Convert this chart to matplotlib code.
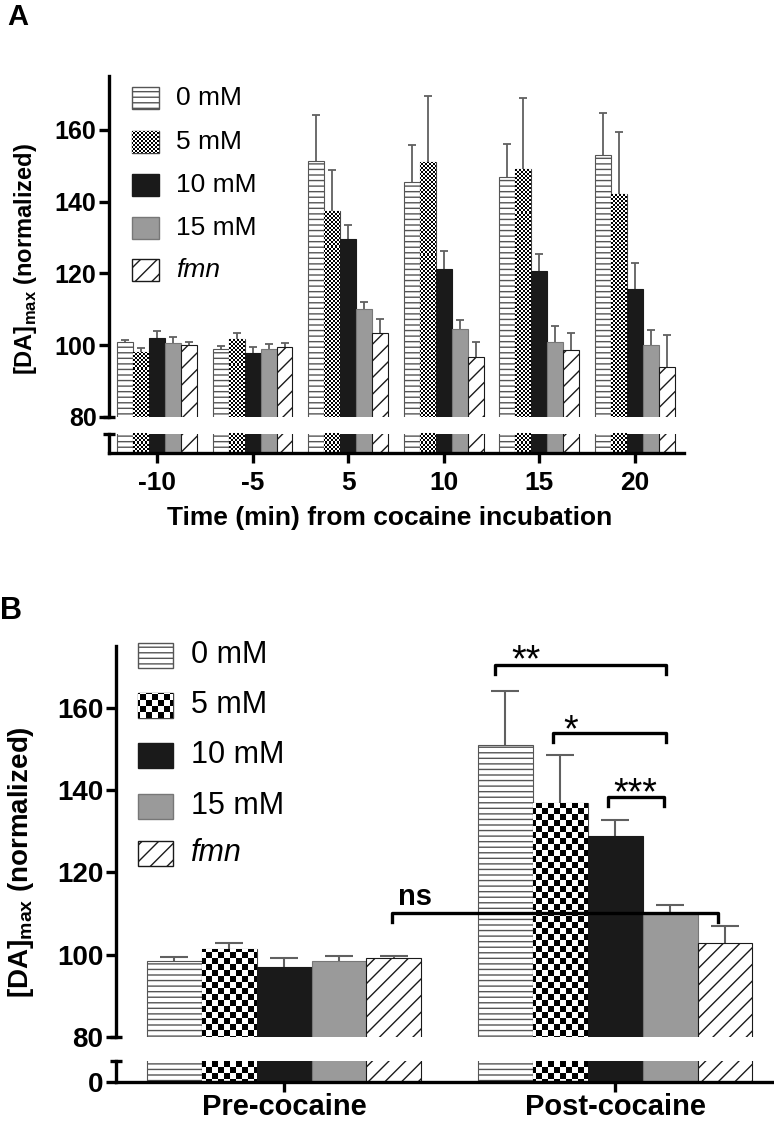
import numpy as np
import matplotlib
matplotlib.use('Agg')
import matplotlib.pyplot as plt
from matplotlib.patches import Rectangle

plt.rcParams['font.family'] = 'Liberation Sans'
plt.rcParams['font.weight'] = 'bold'
plt.rcParams['mathtext.fontset'] = 'custom'
plt.rcParams['mathtext.rm'] = 'Liberation Sans'
plt.rcParams['hatch.linewidth'] = 1.0

# ---- data ----
series = ['0 mM', '5 mM', '10 mM', '15 mM', 'fmn']

time_labels = ['-10', '-5', '5', '10', '15', '20']
a_0mM = [100.8, 99.0, 151.2, 145.6, 146.8, 153.0]
a_0mM_err = [0.6, 0.9, 12.9, 10.3, 9.3, 11.6]
a_5mM = [98.2, 101.8, 137.5, 151.1, 149.2, 142.1]
a_5mM_err = [0.9, 1.5, 11.2, 18.3, 19.6, 17.3]
a_10mM = [102.0, 97.7, 129.5, 121.2, 120.6, 115.7]
a_10mM_err = [2.0, 1.9, 4.0, 5.0, 4.9, 7.1]
a_15mM = [100.7, 98.9, 110.2, 104.6, 101.0, 100.1]
a_15mM_err = [1.5, 1.3, 1.9, 2.4, 4.4, 4.2]
a_fmn = [100.1, 99.6, 103.3, 96.6, 98.7, 93.9]
a_fmn_err = [0.9, 0.9, 4.1, 4.4, 4.7, 8.9]

phase_labels = ['Pre-cocaine', 'Post-cocaine']
b_0mM = [98.5, 151.0]
b_0mM_err = [0.9, 13.1]
b_5mM = [101.5, 136.8]
b_5mM_err = [1.4, 11.7]
b_10mM = [97.0, 128.8]
b_10mM_err = [2.1, 3.9]
b_15mM = [98.5, 109.8]
b_15mM_err = [1.3, 2.2]
b_fmn = [99.2, 102.9]
b_fmn_err = [0.6, 4.1]

# significance brackets in panel B (x in category units, y in data units)
sig_x0 = [0.637, 0.813, 0.979, 0.326]
sig_x1 = [1.154, 1.154, 1.148, 1.311]
sig_y = [170.4, 153.9, 138.3, 110.1]
sig_text = ['**', '*', '***', 'ns']
sig_tx = [0.731, 0.867, 1.060, 0.396]
sig_ty = [168.9, 151.9, 136.6, 112.0]

W, H = 774, 1124
fig = plt.figure(figsize=(W / 100, H / 100), dpi=100)


def box(x0, y_top, x1, y_bot):
    return [x0 / W, 1 - y_bot / H, (x1 - x0) / W, (y_bot - y_top) / H]


def checker(ax, patch, cell, z):
    # fill a patch with a black/white checkerboard texture
    bb = ax.get_position()
    w = int(round(bb.width * W))
    h = int(round(bb.height * H))
    yy, xx = np.mgrid[0:h, 0:w]
    img = ((xx // cell + yy // cell) % 2).astype(float)
    x0, x1 = ax.get_xlim()
    y0, y1 = ax.get_ylim()
    im = ax.imshow(img, cmap='gray', vmin=0, vmax=1, extent=(x0, x1, y0, y1),
                   aspect='auto', interpolation='nearest', zorder=z)
    im.set_clip_path(patch)
    ax.set_xlim(x0, x1)
    ax.set_ylim(y0, y1)


styles = [
    dict(fc='white', ec='#555555', hatch='---'),
    dict(fc='white', ec='#444444', hatch=None),
    dict(fc='#1a1a1a', ec='#1a1a1a', hatch=None),
    dict(fc='#9a9a9a', ec='#777777', hatch=None),
    dict(fc='white', ec='#1a1a1a', hatch='//'),
]


def draw_panel(ax_top, ax_bot, xpos, values, errors, width, cell, capsize, ewidth):
    for ax in (ax_top, ax_bot):
        for i, (vals, st) in enumerate(zip(values, styles)):
            x = xpos + (i - 2) * width
            bars = ax.bar(x, vals, width=width, color=st['fc'], edgecolor=st['ec'],
                          hatch=st['hatch'], linewidth=0.8, zorder=2)
            if i == 1:
                for b in bars:
                    checker(ax, b, cell, 2.1)
            if ax is ax_top:
                eb = ax.errorbar(x, vals, yerr=[np.zeros(len(vals)), errors[i]], fmt='none',
                                 ecolor='#606060', elinewidth=ewidth, capsize=capsize,
                                 capthick=ewidth, zorder=1.5)
                eb.lines[1][0].set_visible(False)  # no cap at the bar top


def style_axes(ax_top, ax_bot, xlim, xticks, xlabels, ysize, xsize, zero_label, xpad):
    for ax in (ax_top, ax_bot):
        ax.set_xlim(*xlim)
        ax.spines[['top', 'right']].set_visible(False)
        ax.spines['left'].set_linewidth(2.4)
        ax.spines['bottom'].set_linewidth(2.4)
    ax_top.set_ylim(80, 175)
    ax_top.spines['bottom'].set_visible(False)
    ax_top.set_xticks([])
    ax_top.set_yticks([80, 100, 120, 140, 160])
    ax_top.tick_params(axis='y', length=7, width=2.4, labelsize=ysize, pad=2)
    ax_bot.set_ylim(0, 1)
    if zero_label:
        ax_bot.set_yticks([0])
        ax_bot.set_yticklabels(['0'])
        ax_bot.tick_params(axis='y', length=7, width=2.4, labelsize=ysize, pad=2)
    else:
        ax_bot.set_yticks([])
    ax_bot.set_xticks(xticks)
    ax_bot.set_xticklabels(xlabels)
    ax_bot.tick_params(axis='x', length=7, width=2.4, labelsize=xsize, pad=xpad)
    # break caps
    ax_top.plot([0], [0], marker='_', ms=8, mew=2.4, color='k',
                transform=ax_top.transAxes, clip_on=False, zorder=5)
    ax_bot.plot([0], [1], marker='_', ms=8, mew=2.4, color='k',
                transform=ax_bot.transAxes, clip_on=False, zorder=5)


def legend(ax, x0, x1, yc, sh, tx, fs, cell):
    for i, (name, st) in enumerate(zip(series, styles)):
        y = yc[i]
        r = Rectangle((x0 / W, 1 - (y + sh / 2) / H), (x1 - x0) / W, sh / H,
                      transform=fig.transFigure, facecolor=st['fc'], edgecolor=st['ec'],
                      hatch=st['hatch'], linewidth=1.0, zorder=3, clip_on=False)
        ax.add_patch(r)
        if i == 1:
            checker(ax, r, cell, 3.1)
        fig.text(tx / W, 1 - y / H, name, fontsize=fs, fontweight='normal',
                 style='italic' if name == 'fmn' else 'normal', va='center', ha='left')


# ---------------- panel A ----------------
axA = fig.add_axes(box(109, 76, 684, 417))
axA2 = fig.add_axes(box(109, 434, 684, 453))
xa = np.arange(len(time_labels))
style_axes(axA, axA2, (-0.502, 5.513), xa, time_labels, 18, 19, False, 6)
draw_panel(axA, axA2, xa,
           [a_0mM, a_5mM, a_10mM, a_15mM, a_fmn],
           [a_0mM_err, a_5mM_err, a_10mM_err, a_15mM_err, a_fmn_err],
           0.167, 2, 3.2, 1.3)
legend(axA, 132, 159, [98, 142, 185, 228, 270], 22, 176, 19, 2)

fig.text(7 / W, 1 - 17 / H, 'A', fontsize=21, fontweight='bold', va='center', ha='left')
fig.text(26 / W, 1 - 259 / H, r'[DA]$_{\rm max}$ (normalized)', fontsize=17,
         fontweight='bold', rotation=90, va='center', ha='center')
fig.text(390 / W, 1 - 518 / H, 'Time (min) from cocaine incubation', fontsize=19,
         fontweight='bold', va='center', ha='center')

# ---------------- panel B ----------------
axB = fig.add_axes(box(116, 646, 774, 1037))
axB2 = fig.add_axes(box(116, 1061, 774, 1082))
xb = np.arange(len(phase_labels))
style_axes(axB, axB2, (-0.5076, 1.480), xb, phase_labels, 20, 21, True, 1)
draw_panel(axB, axB2, xb,
           [b_0mM, b_5mM, b_10mM, b_15mM, b_fmn],
           [b_0mM_err, b_5mM_err, b_10mM_err, b_15mM_err, b_fmn_err],
           0.166, 6, 10, 1.5)
legend(axB, 138, 173, [655, 705, 755, 806, 853], 25, 191, 22, 6)

for x0, x1, y, t, tx, ty in zip(sig_x0, sig_x1, sig_y, sig_text, sig_tx, sig_ty):
    axB.plot([x0, x0, x1, x1], [y - 2.2, y, y, y - 2.2], color='k', lw=2.4,
             zorder=6, clip_on=False, solid_joinstyle='round')
    if t == 'ns':
        axB.text(tx, ty, t, fontsize=21, fontweight='bold', ha='center',
                 va='baseline', zorder=6)
    else:
        axB.text(tx, ty, t, fontsize=27, fontweight='normal', ha='center',
                 va='baseline', zorder=6, clip_on=False)

fig.text(0 / W, 1 - 611 / H, 'B', fontsize=22, fontweight='bold', va='center', ha='left')
fig.text(21 / W, 1 - 862 / H, r'[DA]$_{\rm max}$ (normalized)', fontsize=20,
         fontweight='bold', rotation=90, va='center', ha='center')

fig.savefig('out.png', dpi=100)
